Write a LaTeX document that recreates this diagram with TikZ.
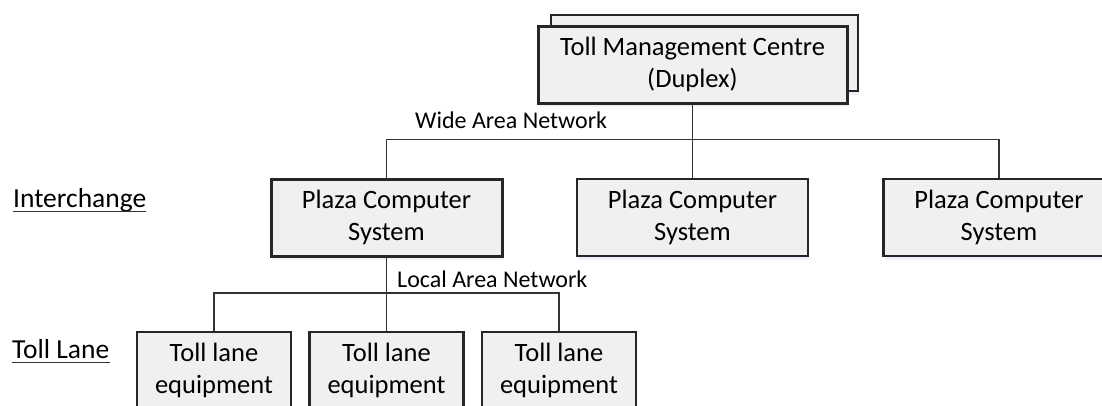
\documentclass[tikz,border=0pt]{standalone}
\usepackage{fontspec}
\setmainfont{Carlito}
\usetikzlibrary{shadows}
\begin{document}
\begin{tikzpicture}[x=1pt,y=-1pt,
  box/.style={draw=black!85, line width=2.2pt, fill=black!6, align=center,
    inner sep=0pt, minimum height=77pt, text=black,
    font=\fontsize{26.5}{32}\selectfont,
    drop shadow={fill=blue!35!gray!70, opacity=0.12, shadow xshift=1pt, shadow yshift=-3.5pt}},
  boldbox/.style={box, line width=3pt},
  conn/.style={draw=black!80, line width=1.6pt},
  netlabel/.style={anchor=base west, inner sep=0pt, font=\fontsize{24}{28}\selectfont},
  levellabel/.style={anchor=base west, inner sep=0pt, font=\fontsize{27.5}{32}\selectfont}]
  \path[use as bounding box] (0,0) rectangle (1102,405);
  \clip (0,0) rectangle (1102,405);

  % management centre, drawn as a duplex pair
  \node[box, minimum width=307pt, minimum height=76pt] (tmcb) at (704.5,53) {};
  \node[boldbox, minimum width=309pt] (tmc) at (692.5,64.5)
    {Toll Management Centre\\(Duplex)};

  % interchange level
  \node[boldbox, minimum width=231pt] (p1) at (386.5,217.5) {Plaza Computer\\System};
  \node[box, minimum width=231pt] (p2) at (692.5,217.5) {Plaza Computer\\System};
  \node[box, minimum width=231pt] (p3) at (999,217.5) {Plaza Computer\\System};

  % toll lane level
  \node[box, line width=2.6pt, minimum width=154pt] (t1) at (214,370.5) {Toll lane\\equipment};
  \node[box, line width=2.6pt, minimum width=154pt] (t2) at (386.5,370.5) {Toll lane\\equipment};
  \node[box, line width=2.6pt, minimum width=154pt] (t3) at (559,370.5) {Toll lane\\equipment};

  % networks
  \draw[conn] (tmc.south) -- (p2.north);
  \draw[conn] (p1.north) -- ++(0,-38) -| (p3.north);
  \draw[conn] (p1.south) -- (t2.north);
  \draw[conn] (t1.north) -- ++(0,-38) -| (t3.north);

  \node[netlabel] (wan) at (415,128) {Wide Area Network};
  \node[netlabel] (lan) at (397,287) {Local Area Network};

  % level names
  \node[levellabel] (ic) at (13,207) {Interchange};
  \node[levellabel] (tl) at (12,358) {Toll Lane};
  \draw[line width=1.3pt, black!80] ([yshift=-4.5pt]ic.base west) -- ([yshift=-4.5pt]ic.base east);
  \draw[line width=1.3pt, black!80] ([yshift=-4.5pt]tl.base west) -- ([yshift=-4.5pt]tl.base east);
\end{tikzpicture}
\end{document}
